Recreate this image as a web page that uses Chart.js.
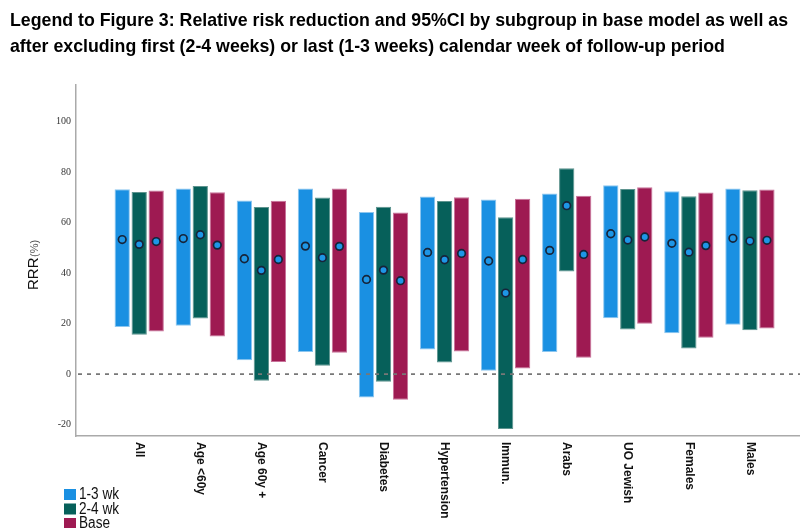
<!DOCTYPE html>
<html lang="en">

<head>
    <meta charset="UTF-8">
    <title>Figure 3</title>
    <script src="https://cdn.jsdelivr.net/npm/chart.js@4"></script>
    <style>
        body {
            margin: 0;
            background: #fff;
        }

        .wrap {
            position: relative;
            width: 800px;
            height: 528px;
            overflow: hidden;
        }

        .title {
            position: absolute;
            top: 7px;
            left: 10px;
            font: bold 19px "Liberation Sans", Arial, sans-serif;
            line-height: 26px;
            color: #000;
            white-space: nowrap;
            transform-origin: 0 0;
        }

        .title span {
            display: block;
        }
    </style>
</head>

<body>
    <div class="wrap">
        <canvas id="rrrChart" width="800" height="528"></canvas>
        <div class="title" id="title">
            <span id="line1">Legend to Figure 3: Relative risk reduction and 95%CI by subgroup in base model as well as</span>
            <span>after excluding first (2-4 weeks) or last (1-3 weeks) calendar week of follow-up period</span>
        </div>
    </div>

    <script>
        // subgroups
        var categories = ['All', 'Age <60y', 'Age 60y +', 'Cancer', 'Diabetes', 'Hypertension', 'Immun.', 'Arabs', 'UO Jewish', 'Females', 'Males'];

        // excluding last 1-3 weeks
        var est13 = [53.3, 53.7, 45.7, 50.7, 37.5, 48.2, 44.8, 49.0, 55.6, 51.8, 53.8];
        var lo13 = [18.7, 19.2, 5.5, 8.8, -9.3, 9.8, 1.3, 8.8, 22.1, 16.2, 19.6];
        var hi13 = [73.2, 73.5, 68.8, 73.5, 64.2, 70.3, 69.2, 71.5, 74.8, 72.4, 73.5];

        // excluding first 2-4 weeks
        var est24 = [51.4, 55.2, 41.1, 46.1, 41.2, 45.3, 32.1, 66.7, 53.1, 48.3, 52.7];
        var lo24 = [15.6, 22.0, -2.6, 3.3, -3.0, 4.6, -21.7, 40.6, 17.7, 10.2, 17.4];
        var hi24 = [72.1, 74.5, 66.2, 69.9, 66.3, 68.6, 62.1, 81.5, 73.3, 70.4, 72.8];

        // base model
        var estBase = [52.5, 51.1, 45.4, 50.6, 37.0, 47.8, 45.4, 47.4, 54.3, 50.9, 53.0];
        var loBase = [16.9, 14.9, 4.8, 8.5, -10.1, 9.0, 2.2, 6.5, 20.0, 14.4, 18.1];
        var hiBase = [72.7, 72.0, 68.7, 73.5, 64.0, 70.0, 69.5, 70.6, 74.0, 71.9, 73.1];

        var yTicks = [-20, 0, 20, 40, 60, 80, 100];
        var seriesNames = ['1-3 wk', '2-4 wk', 'Base'];

        // squeeze the title to the width of the original (narrow font there)
        var line1 = document.getElementById('line1');
        var titleScale = 778 / line1.getBoundingClientRect().width;
        document.getElementById('title').style.transform = 'scaleX(' + titleScale + ')';

        function ranges(lo, hi) {
            return categories.map(function (c, i) {
                return { x: i + 1, y: [lo[i], hi[i]] };
            });
        }

        // point estimates on top of each bar
        var markerPlugin = {
            id: 'markers',
            afterDatasetsDraw: function (chart) {
                var ctx = chart.ctx;
                var yScale = chart.scales.y;
                var ests = [est13, est24, estBase];

                // dashed reference line at 0
                var area = chart.chartArea;
                var y0 = yScale.getPixelForValue(0);
                ctx.save();
                ctx.setLineDash([4, 5]);
                ctx.lineWidth = 1.6;
                ctx.strokeStyle = '#777';
                ctx.beginPath();
                ctx.moveTo(area.left + 2, y0);
                ctx.lineTo(area.right, y0);
                ctx.stroke();
                ctx.restore();

                ests.forEach(function (est, d) {
                    var meta = chart.getDatasetMeta(d);
                    meta.data.forEach(function (bar, i) {
                        ctx.save();
                        ctx.beginPath();
                        ctx.arc(bar.x, yScale.getPixelForValue(est[i]), 3.8, 0, Math.PI * 2);
                        ctx.fillStyle = '#1e96e6';
                        ctx.fill();
                        ctx.lineWidth = 1.7;
                        ctx.strokeStyle = '#16243a';
                        ctx.stroke();
                        ctx.restore();
                    });
                });
            },
            afterDraw: function (chart) {
                var ctx = chart.ctx;
                var xScale = chart.scales.x;
                var area = chart.chartArea;

                // rotated category labels
                ctx.save();
                ctx.font = 'bold 12px "Liberation Sans", Arial, sans-serif';
                ctx.fillStyle = '#111';
                ctx.textAlign = 'left';
                ctx.textBaseline = 'middle';
                categories.forEach(function (c, i) {
                    ctx.save();
                    ctx.translate(xScale.getPixelForValue(i + 1), area.bottom + 6);
                    ctx.rotate(Math.PI / 2);
                    ctx.fillText(c, 0, 0);
                    ctx.restore();
                });
                ctx.restore();

                // y axis title
                ctx.save();
                ctx.translate(38, 290);
                ctx.rotate(-Math.PI / 2);
                ctx.textAlign = 'left';
                ctx.textBaseline = 'alphabetic';
                ctx.fillStyle = '#111';
                ctx.font = '15px "Liberation Sans", Arial, sans-serif';
                ctx.fillText('RRR', 0, 0);
                ctx.fillStyle = '#555';
                ctx.font = '11px "Liberation Sans", Arial, sans-serif';
                ctx.fillText('(%)', 33, 0);
                ctx.restore();

                // legend
                ctx.save();
                ctx.font = '16px "Liberation Sans", Arial, sans-serif';
                ctx.textAlign = 'left';
                ctx.textBaseline = 'middle';
                chart.data.datasets.forEach(function (ds, d) {
                    var top = 489 + d * 14.5;
                    ctx.fillStyle = ds.backgroundColor;
                    ctx.fillRect(64, top, 12, 11);
                    ctx.fillStyle = '#111';
                    ctx.save();
                    ctx.translate(79, top + 6);
                    ctx.scale(0.85, 1);
                    ctx.fillText(ds.label, 0, 0);
                    ctx.restore();
                });
                ctx.restore();
            }
        };

        var ctx = document.getElementById('rrrChart').getContext('2d');
        var rrrChart = new Chart(ctx, {
            type: 'bar',
            data: {
                datasets: [{
                    label: seriesNames[0],
                    data: ranges(lo13, hi13),
                    backgroundColor: '#1a90e2',
                    borderColor: '#8cc6ef',
                    borderWidth: 1,
                    borderSkipped: false
                }, {
                    label: seriesNames[1],
                    data: ranges(lo24, hi24),
                    backgroundColor: '#06605a',
                    borderColor: '#5e948f',
                    borderWidth: 1,
                    borderSkipped: false
                }, {
                    label: seriesNames[2],
                    data: ranges(loBase, hiBase),
                    backgroundColor: '#9e1a52',
                    borderColor: '#c8729a',
                    borderWidth: 1,
                    borderSkipped: false
                }]
            },
            options: {
                responsive: false,
                animation: false,
                devicePixelRatio: 1,
                categoryPercentage: 0.835,
                barPercentage: 0.9,
                layout: {
                    padding: { top: 85, left: 0, right: 0, bottom: 0 }
                },
                plugins: {
                    legend: { display: false },
                    tooltip: { enabled: false }
                },
                scales: {
                    x: {
                        type: 'linear',
                        offset: false,
                        min: -0.035,
                        max: 11.82,
                        grid: { display: false, drawTicks: false, offset: false },
                        ticks: { display: false },
                        border: { display: true, color: '#aaa', width: 1.5 },
                        afterFit: function (s) { s.height = 92; }
                    },
                    y: {
                        min: -24.5,
                        max: 114.5,
                        grid: { display: false, drawTicks: false },
                        border: { display: true, color: '#aaa', width: 1.5 },
                        afterBuildTicks: function (s) {
                            s.ticks = yTicks.map(function (v) { return { value: v }; });
                        },
                        ticks: {
                            padding: 5,
                            color: '#333',
                            font: { family: '"Liberation Serif", "Times New Roman", serif', size: 10 }
                        },
                        afterFit: function (s) { s.width = 76; }
                    }
                }
            },
            plugins: [markerPlugin]
        });
    </script>
</body>

</html>
